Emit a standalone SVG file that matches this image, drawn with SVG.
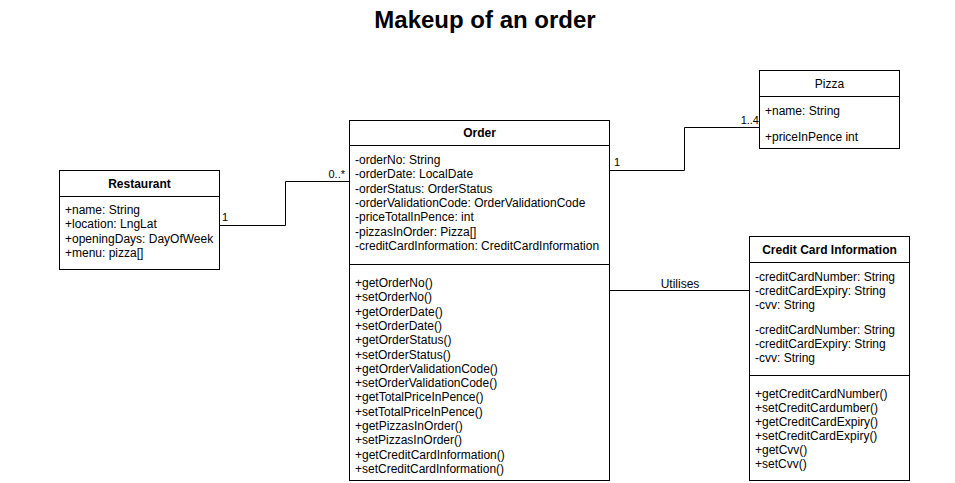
<svg xmlns="http://www.w3.org/2000/svg" width="955" height="483" viewBox="0 0 955 483">
<style>
.box{fill:#fff;stroke:#000;stroke-width:1}
.sep{stroke:#000;stroke-width:1;fill:none}
.conn{stroke:#000;stroke-width:1;fill:none}
text{font-family:"Liberation Sans",Arial,sans-serif;font-size:12px;fill:#000}
.hd{font-weight:bold;text-anchor:middle}
.hn{text-anchor:middle}
.title{font-size:24px;font-weight:bold;text-anchor:middle}
.lbl{font-size:11px}
</style>
<rect x="0" y="0" width="955" height="483" fill="#fff"/>
<text class="title" x="485" y="28">Makeup of an order</text>

<g id="connectors">
  <path class="conn" d="M219.5,225.5 H285.5 V181.5 H349.5"/>
  <text class="lbl" x="222" y="221">1</text>
  <text class="lbl" x="345" y="178" text-anchor="end">0..*</text>
  <path class="conn" d="M609.5,170.5 H684.5 V127.5 H759.5"/>
  <text class="lbl" x="614" y="166">1</text>
  <rect x="740" y="113" width="19.5" height="12" fill="#fff"/>
  <text class="lbl" x="759" y="124" text-anchor="end">1..4</text>
  <path class="conn" d="M609.5,290.5 H749.5"/>
  <text x="680" y="288" text-anchor="middle">Utilises</text>
</g>

<g id="restaurant">
  <rect class="box" x="59.5" y="170.5" width="160" height="99"/>
  <line class="sep" x1="59.5" y1="196.5" x2="219.5" y2="196.5"/>
  <text class="hd" x="139.5" y="188">Restaurant</text>
  <text x="65" y="214">+name: String</text>
  <text x="65" y="228.3">+location: LngLat</text>
  <text x="65" y="242.6">+openingDays: DayOfWeek</text>
  <text x="65" y="256.9">+menu: pizza[]</text>
</g>

<g id="order">
  <rect class="box" x="349.5" y="120.5" width="260" height="360"/>
  <line class="sep" x1="349.5" y1="145.5" x2="609.5" y2="145.5"/>
  <line class="sep" x1="349.5" y1="264.5" x2="609.5" y2="264.5"/>
  <text class="hd" x="479.5" y="137">Order</text>
  <text x="355" y="164">-orderNo: String</text>
  <text x="355" y="178.3">-orderDate: LocalDate</text>
  <text x="355" y="192.6">-orderStatus: OrderStatus</text>
  <text x="355" y="206.9">-orderValidationCode: OrderValidationCode</text>
  <text x="355" y="221.2">-priceTotalInPence: int</text>
  <text x="355" y="235.5">-pizzasInOrder: Pizza[]</text>
  <text x="355" y="249.8">-creditCardInformation: CreditCardInformation</text>
  <text x="355" y="287">+getOrderNo()</text>
  <text x="355" y="301.3">+setOrderNo()</text>
  <text x="355" y="315.6">+getOrderDate()</text>
  <text x="355" y="329.9">+setOrderDate()</text>
  <text x="355" y="344.2">+getOrderStatus()</text>
  <text x="355" y="358.5">+setOrderStatus()</text>
  <text x="355" y="372.8">+getOrderValidationCode()</text>
  <text x="355" y="387.1">+setOrderValidationCode()</text>
  <text x="355" y="401.4">+getTotalPriceInPence()</text>
  <text x="355" y="415.7">+setTotalPriceInPence()</text>
  <text x="355" y="430">+getPizzasInOrder()</text>
  <text x="355" y="444.3">+setPizzasInOrder()</text>
  <text x="355" y="458.6">+getCreditCardInformation()</text>
  <text x="355" y="472.9">+setCreditCardInformation()</text>
</g>

<g id="pizza">
  <rect class="box" x="759.5" y="70.5" width="140" height="78"/>
  <line class="sep" x1="759.5" y1="96.5" x2="899.5" y2="96.5"/>
  <text class="hn" x="829.5" y="88">Pizza</text>
  <text x="765" y="115">+name: String</text>
  <text x="765" y="141">+priceInPence int</text>
</g>

<g id="credit-card-information">
  <rect class="box" x="749.5" y="236.5" width="160" height="244"/>
  <line class="sep" x1="749.5" y1="262.5" x2="909.5" y2="262.5"/>
  <line class="sep" x1="749.5" y1="375.5" x2="909.5" y2="375.5"/>
  <text class="hd" x="829.5" y="254">Credit Card Information</text>
  <text x="755" y="281">-creditCardNumber: String</text>
  <text x="755" y="295">-creditCardExpiry: String</text>
  <text x="755" y="309">-cvv: String</text>
  <text x="755" y="334">-creditCardNumber: String</text>
  <text x="755" y="348">-creditCardExpiry: String</text>
  <text x="755" y="362">-cvv: String</text>
  <text x="755" y="397.5">+getCreditCardNumber()</text>
  <text x="755" y="411.5">+setCreditCardumber()</text>
  <text x="755" y="425.5">+getCreditCardExpiry()</text>
  <text x="755" y="439.5">+setCreditCardExpiry()</text>
  <text x="755" y="453.5">+getCvv()</text>
  <text x="755" y="467.5">+setCvv()</text>
</g>
</svg>
